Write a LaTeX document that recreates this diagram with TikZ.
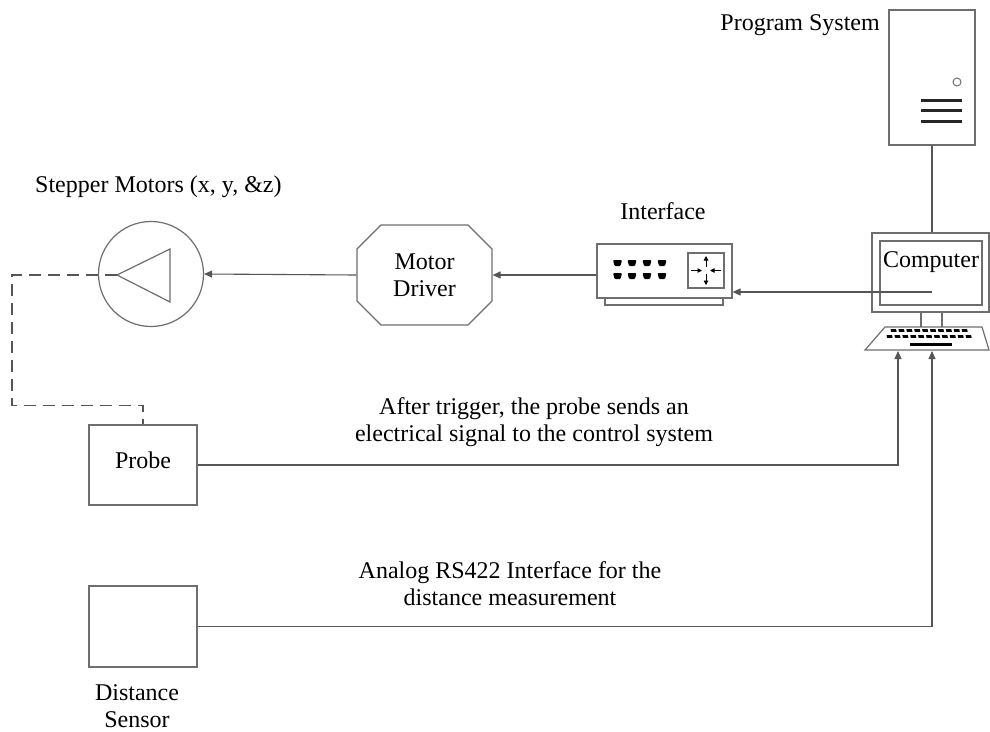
\documentclass[tikz,border=0pt]{standalone}
\usepackage{fontspec}
\setmainfont{Liberation Serif}
\usetikzlibrary{arrows.meta,shapes.misc,calc}
\definecolor{edge}{RGB}{85,85,85}
\definecolor{frame}{RGB}{110,110,110}
\begin{document}
\begin{tikzpicture}[x=1pt,y=-1pt,
  every node/.style={font=\fontsize{24}{27}\selectfont, text=black},
  box/.style={draw=frame, line width=1.2pt, rectangle, inner sep=0pt},
  part/.style={draw=frame, line width=1.2pt},
  wire/.style={draw=edge, line width=1.1pt},
  arr/.style={wire, -{Triangle[length=8pt,width=7pt]}},
  mini/.style={draw=black, line width=0.9pt, -{Triangle[length=4.5pt,width=4.5pt]}},
  lbl/.style={align=center, inner sep=0pt}]
\fill[white] (0,0) rectangle (990,731);
\useasboundingbox (0,0) rectangle (990,731);

% program system (tower)
\node[box, minimum width=86pt, minimum height=135pt] (tower) at (932,77.5) {};
\draw[part, line width=1pt] (957,82) circle (4pt);
\foreach \yy in {100,110.5,121} \draw[black!85, line width=3pt] (921,\yy) -- (962,\yy);
\node[lbl, anchor=east] (progsys) at (880,25) {Program System};

% computer: monitor, stand, keyboard
\node[box, minimum width=117pt, minimum height=79pt] (monitor) at (930.5,272.5) {};
\node[box, minimum width=102pt, minimum height=64pt] (screen) at (931,273) {};
\node[lbl] (comptext) at (931,262) {Computer};
\draw[wire] (tower.south) -- (tower.south |- monitor.north);
\draw[part] (921,312) -- (921,327) (942,312) -- (942,327);
\draw[part] (885,327) -- (982,327) -- (989,350) -- (865,350) -- cycle;
\foreach \i in {0,...,9} \fill (890.5+\i*7.9,329) -- ++(5.5,0) -- ++(0.6,2.8) -- ++(-5.5,0) -- cycle;
\foreach \i in {0,...,10} \fill (886.5+\i*7.9,335) -- ++(5.5,0) -- ++(0.6,2.8) -- ++(-5.5,0) -- cycle;
\fill (910,342.5) rectangle (952,345.5);
\coordinate (kbd1) at (898,351);
\coordinate (kbd2) at (932,351);
\coordinate (cpuout) at (932,292);

% interface unit
\node[box, minimum width=135pt, minimum height=54pt] (iface) at (664.5,271) {};
\draw[part] (605,298) -- (605,305) -- (723,305) -- (723,298);
\foreach \cx in {617.5,632,647,662}
  \foreach \cy in {263,276}
    \fill[rounded corners=1pt] (\cx-4.5,\cy-3) -- (\cx+4.5,\cy-3) -- (\cx+3,\cy+3) -- (\cx-3,\cy+3) -- cycle;
\draw[part] (688,253) rectangle (724,288);
\draw[mini] (706,267) -- (706,256);
\draw[mini] (706,274) -- (706,285);
\draw[mini] (691,270.5) -- (702,270.5);
\draw[mini] (721,270.5) -- (710,270.5);
\node[lbl] (ifacelbl) at (663,211) {Interface};

% motor driver
\node[draw=frame, line width=1.2pt, chamfered rectangle, chamfered rectangle xsep=12pt,
  chamfered rectangle ysep=12pt, minimum width=135pt, minimum height=100pt,
  align=center, inner sep=0pt] (driver) at (424.5,275) {Motor\\Driver};

% stepper motor
\node[circle, draw=frame, line width=1.2pt, minimum size=105pt, inner sep=0pt] (motor) at (151,274) {};
\draw[part] (117,275) -- (170,249) -- (170,302) -- cycle;
\coordinate (tip) at (117,275);
\node[lbl, anchor=west] (motorlbl) at (35,187) {Stepper Motors (x, y, \&z)};

% probe and distance sensor
\node[box, minimum width=108pt, minimum height=80pt] (probe) at (143,465) {};
\node[lbl] (probetext) at (143,460) {Probe};
\node[box, minimum width=108pt, minimum height=81pt] (sensor) at (143,626.5) {};
\node[lbl] (sensorlbl) at (137,706) {Distance\\Sensor};

% connections
\draw[arr] (cpuout) -- (cpuout -| iface.east);
\draw[arr] (iface.west |- driver.east) -- (driver.east);
\draw[arr] (driver.west) -- (motor.east);
\draw[wire, dash pattern=on 12pt off 7pt] (tip) -- ++(-105,0) |- ($(probe.north)+(0,-19)$) -- (probe.north);
\draw[arr] (probe.east) -| (kbd1);
\draw[arr] (sensor.east) -| (kbd2);

% connection labels
\node[lbl] (triglbl) at (534,422) {After trigger, the probe sends an\\electrical signal to the control system};
\node[lbl] (rslbl) at (510,584) {Analog RS422 Interface for the\\distance measurement};
\end{tikzpicture}
\end{document}
